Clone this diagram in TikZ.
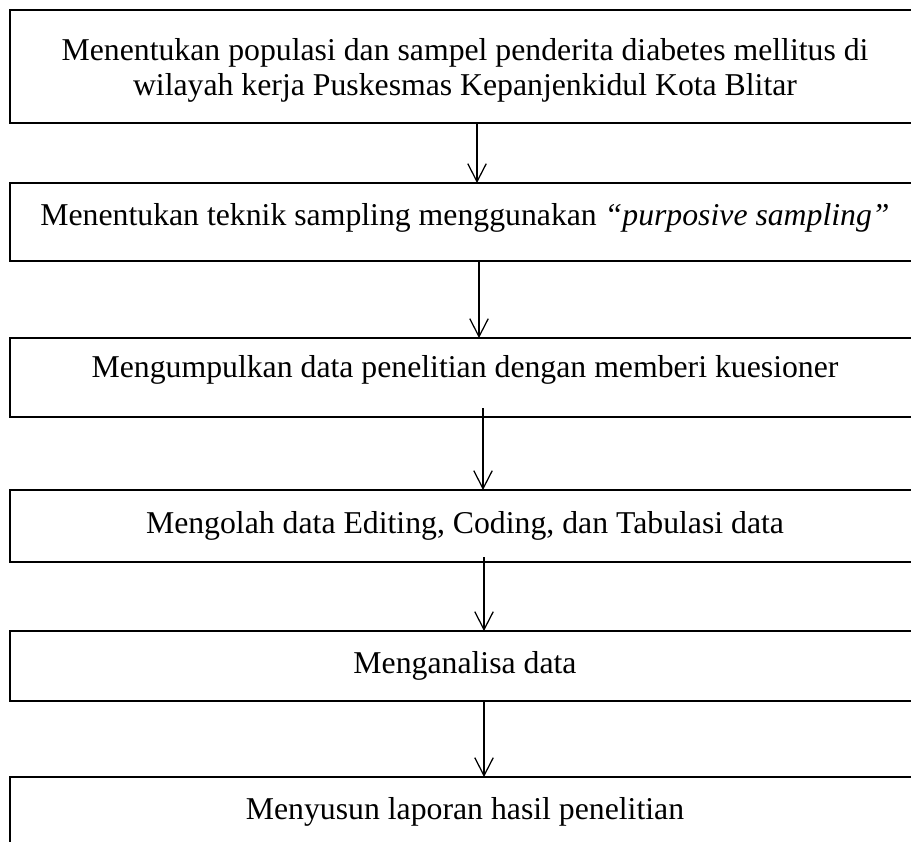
\documentclass[tikz,border=0pt]{standalone}
\usepackage{fontspec}
\setmainfont{Liberation Serif}
\usepackage{tikz}
\usetikzlibrary{arrows.meta}
\usetikzlibrary{calc}

\tikzset{
    stepbox/.style={draw, line width=0.5pt, rectangle, anchor=north west, minimum width=364pt,
        inner sep=0pt, outer sep=0pt, align=center, font=\fontsize{12.7}{14}\selectfont},
    flowarrow/.style={line width=0.5pt, -{Straight Barb[length=7.2pt,width=7.4pt]}}
}

\begin{document}
\begin{tikzpicture}[x=0.4pt, y=-0.4pt]
        \useasboundingbox (0,0) rectangle (911,841);
        \clip (0,0) rectangle (911,841);
        \node[stepbox, minimum height=45.2pt, text depth=0pt] (populasi) at (10,10) {Menentukan populasi dan sampel penderita diabetes mellitus di\\wilayah kerja Puskesmas Kepanjenkidul Kota Blitar};
        \node[stepbox, minimum height=31.2pt, text depth=6pt] (teknik) at (10,183) {Menentukan teknik sampling menggunakan \textit{“purposive sampling”}};
        \node[stepbox, minimum height=31.6pt, text depth=9.2pt] (kumpul) at (10,338) {Mengumpulkan data penelitian dengan memberi kuesioner};
        \node[stepbox, minimum height=28.8pt] (olah) at (10,490) {Mengolah data Editing, Coding, dan Tabulasi data};
        \node[stepbox, minimum height=28pt] (analisa) at (10,631) {Menganalisa data};
        \node[stepbox, minimum height=30pt, text depth=5.2pt] (laporan) at (10,777) {Menyusun laporan hasil penelitian};
        \draw[flowarrow] ([xshift=4.8pt]populasi.south) -- ([xshift=4.8pt]teknik.north);
        \draw[flowarrow] ([xshift=5.6pt]teknik.south) -- ([xshift=5.6pt]kumpul.north);
        \draw[flowarrow] ([xshift=7.2pt, yshift=3.6pt]kumpul.south) -- ([xshift=7.2pt]olah.north);
        \draw[flowarrow] ([xshift=7.6pt, yshift=2pt]olah.south) -- ([xshift=7.6pt]analisa.north);
        \draw[flowarrow] ([xshift=7.6pt]analisa.south) -- ([xshift=7.6pt]laporan.north);
    \end{tikzpicture}
\end{document}
